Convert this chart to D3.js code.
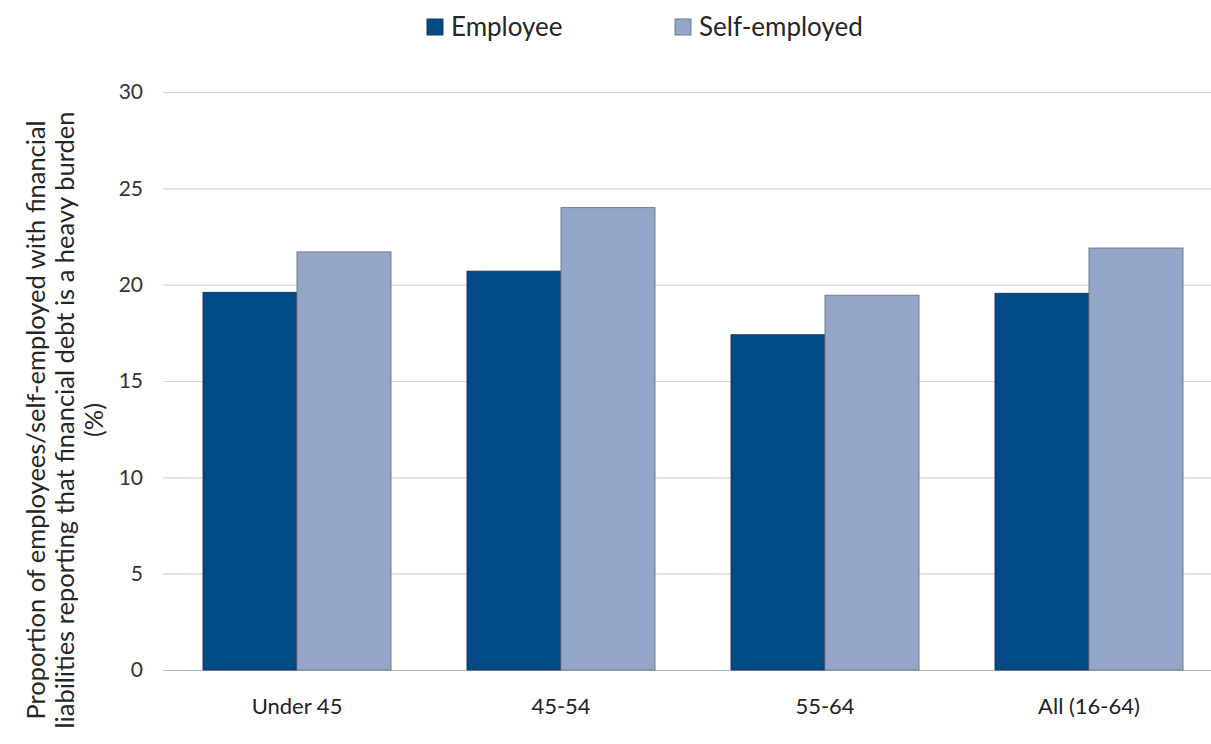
<!DOCTYPE html>
<html>
<head>
<meta charset="utf-8">
<script src="https://cdn.jsdelivr.net/npm/d3@7"></script>
<style>
	body { margin: 0; background: #fff; }
	svg { display: block; }
</style>
</head>
<body>
<script>
// data
const categories = ["Under 45", "45-54", "55-64", "All (16-64)"];
const seriesNames = ["Employee", "Self-employed"];
const employee = [19.6, 20.7, 17.4, 19.55];
const selfEmployed = [21.7, 24.0, 19.45, 21.9];
const yTicks = [0, 5, 10, 15, 20, 25, 30];

const COLORS = { "Employee": "#004a87", "Self-employed": "#94a7c8" };
const STROKES = { "Employee": "#1d3a5c", "Self-employed": "#737b88" };
const FONT = "Lato, 'Open Sans', sans-serif";

const W = 1211, H = 744;
const margin = { top: 92, right: -10, bottom: 74, left: 165 };

const svg = d3.select("body").append("svg")
	.attr("width", W)
	.attr("height", H);

const x0 = d3.scaleBand()
	.domain(categories)
	.range([margin.left, W - margin.right])
	.paddingInner(0.288)
	.paddingOuter(0.144);

const x1 = d3.scaleBand()
	.domain(seriesNames)
	.range([0, x0.bandwidth()]);

const y = d3.scaleLinear()
	.domain([0, 30])
	.range([H - margin.bottom, margin.top]);

// gridlines
svg.append("g")
	.selectAll("line")
	.data(yTicks)
	.join("line")
	.attr("x1", 163)
	.attr("x2", W)
	.attr("y1", d => y(d) + 0.5)
	.attr("y2", d => y(d) + 0.5)
	.attr("stroke", d => d === 0 ? "#b8b8b8" : "#d6d6d6")
	.attr("stroke-width", 1.2);

// y axis labels
const yAxis = d3.axisLeft(y).tickValues(yTicks).tickSize(0).tickPadding(0);
svg.append("g")
	.attr("transform", "translate(143,0)")
	.call(yAxis)
	.call(g => g.select(".domain").remove())
	.call(g => g.selectAll("text")
		.attr("font-family", FONT)
		.attr("font-size", 21)
		.attr("fill", "#333"));

// bars
const rows = categories.map((c, i) => ({
	cat: c,
	values: [
		{ key: "Employee", value: employee[i] },
		{ key: "Self-employed", value: selfEmployed[i] }
	]
}));

svg.append("g")
	.selectAll("g")
	.data(rows)
	.join("g")
	.attr("transform", d => `translate(${x0(d.cat)},0)`)
	.selectAll("rect")
	.data(d => d.values)
	.join("rect")
	.attr("x", d => x1(d.key))
	.attr("width", x1.bandwidth())
	.attr("y", d => y(d.value))
	.attr("height", d => y(0) - y(d.value))
	.attr("fill", d => COLORS[d.key])
	.attr("stroke", d => STROKES[d.key])
	.attr("stroke-width", 1);

// x axis labels
const xAxis = d3.axisBottom(x0).tickSize(0).tickPadding(0);
svg.append("g")
	.attr("transform", `translate(0,${y(0) + 44})`)
	.call(xAxis)
	.call(g => g.select(".domain").remove())
	.call(g => g.selectAll("text")
		.attr("dy", 0)
		.attr("font-family", FONT)
		.attr("font-size", 22)
		.attr("fill", "#222"));

// y axis title
const title = svg.append("text")
	.attr("transform", "translate(0,420) rotate(-90)")
	.attr("text-anchor", "middle")
	.attr("font-family", FONT)
	.attr("font-size", 25.5)
	.attr("fill", "#262626");
title.append("tspan").attr("x", 0).attr("y", 45)
	.text("Proportion of employees/self-employed with financial");
title.append("tspan").attr("x", 0).attr("y", 74)
	.text("liabilities reporting that financial debt is a heavy burden");
title.append("tspan").attr("x", 0).attr("y", 103)
	.text("(%)");

// legend
const legend = svg.append("g")
	.selectAll("g")
	.data(seriesNames)
	.join("g")
	.attr("transform", (d, i) => `translate(${i === 0 ? 427 : 675},19)`);

legend.append("rect")
	.attr("width", 16)
	.attr("height", 16)
	.attr("fill", d => COLORS[d])
	.attr("stroke", d => STROKES[d])
	.attr("stroke-width", 1);

legend.append("text")
	.attr("x", 24)
	.attr("y", 17)
	.attr("font-family", FONT)
	.attr("font-size", 26)
	.attr("fill", "#262626")
	.text(d => d);
</script>
</body>
</html>
